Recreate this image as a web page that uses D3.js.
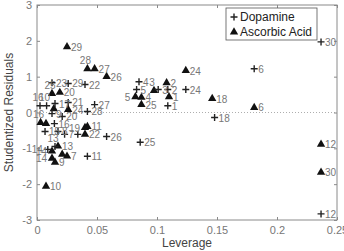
<!DOCTYPE html>
<html>
<head>
<meta charset="utf-8">
<script src="https://cdn.jsdelivr.net/npm/d3@7"></script>
<style>
  body { margin: 0; background: #fff; }
  svg text { font-family: Arial, "Liberation Sans", sans-serif; }
</style>
</head>
<body>
<div id="chart"></div>
<script>
// Dopamine (+): leverage, studentized residual, label
const dopLev = [0.109, 0.109, 0.101, 0.085, 0.083, 0.181, 0.023, 0.0175, 0.0125, 0.008,
                0.042, 0.2367, 0.015, 0.009, 0.0067, 0.0025, 0.015, 0.148, 0.034, 0.021,
                0.026, 0.040, 0.0125, 0.124, 0.086, 0.058, 0.048, 0.042, 0.026, 0.2367, 0.0145];
const dopRes = [0.19, 0.64, 0.64, 0.86, 0.64, 1.22, -0.61, -0.53, -0.03, 0.19,
                -1.22, -2.83, -0.95, -1.03, -0.53, 0.19, 0.25, -0.14, -0.61, -0.11,
                0.28, 0.78, 0.83, 0.64, -0.83, -0.67, 0.22, 0.03, 0.81, 1.97, -0.31];
const dopLab = ["1", "2", "3", "4", "5", "6", "7", "8", "9", "10",
                "11", "12", "13", "14", "15", "16", "17", "18", "19", "20",
                "21", "22", "23", "24", "25", "26", "27", "28", "29", "30", "16"];
const dopPos = ["r", "r", "r", "r", "r", "r", "r", "r", "r", "t",
                "r", "r", "t", "l", "r", "t", "r", "r", "n", "r",
                "r", "r", "r", "r", "r", "r", "r", "r", "r", "r", "r"];

// Ascorbic Acid (triangles)
const ascLev = [0.110, 0.108, 0.0975, 0.087, 0.082, 0.181, 0.025, 0.021, 0.015, 0.0075,
                0.042, 0.2367, 0.0175, 0.0125, 0.0125, 0.003, 0.014, 0.146, 0.040, 0.019,
                0.026, 0.040, 0.0125, 0.124, 0.087, 0.058, 0.048, 0.042, 0.025, 0.2367, 0.0075];
const ascRes = [0.44, 0.83, 0.61, 0.42, 0.44, 0.14, -1.22, -1.17, -1.39, -2.06,
                -0.39, -0.89, -0.94, -1.08, -1.28, -0.28, 0.10, 0.39, -0.42, 0.56,
                0.08, -0.61, 0.53, 1.17, 0.22, 1.0, 1.22, 1.22, 1.83, -1.67, -0.31];
const ascLab = ["1", "2", "3", "4", "5", "6", "7", "8", "9", "10",
                "11", "12", "13", "14", "14", "16", "17", "18", "19", "20",
                "24", "22", "25", "24", "25", "26", "27", "28", "29", "30", "5"];
const ascPos = ["r", "r", "t", "r", "l", "r", "r", "n", "r", "r",
                "r", "r", "r", "l", "l", "t", "n", "r", "l", "r",
                "r", "r", "t", "r", "r", "r", "r", "t", "r", "r", "n"];

const xTicks = [0, 0.05, 0.1, 0.15, 0.2, 0.25];
const yTicks = [-3, -2, -1, 0, 1, 2, 3];

const W = 344, H = 251;
const margin = { top: 5, right: 7, bottom: 31, left: 37 };
const width = W - margin.left - margin.right;
const height = H - margin.top - margin.bottom;

const svg = d3.select("#chart").append("svg")
  .attr("width", W).attr("height", H);
const g = svg.append("g").attr("transform", `translate(${margin.left},${margin.top})`);

const x = d3.scaleLinear().domain([0, 0.25]).range([0, width]);
const y = d3.scaleLinear().domain([-3, 3]).range([height, 0]);

const axisCol = "#8a8a8a";
const fmt = d => d === 0 ? "0" : String(d);

function styleAxis(sel) {
  sel.select(".domain").remove();
  sel.selectAll("line").attr("stroke", axisCol);
  sel.selectAll("text").attr("fill", "#777").attr("font-size", 11);
}

g.append("g").attr("transform", `translate(0,${height})`)
  .call(d3.axisBottom(x).tickValues(xTicks).tickFormat(fmt).tickSizeInner(-3).tickSizeOuter(0).tickPadding(6))
  .call(styleAxis);
g.append("g").call(d3.axisTop(x).tickValues(xTicks).tickFormat("").tickSizeInner(-3).tickSizeOuter(0))
  .call(styleAxis);
g.append("g")
  .call(d3.axisLeft(y).tickValues(yTicks).tickFormat(fmt).tickSizeInner(-3).tickSizeOuter(0).tickPadding(5))
  .call(styleAxis);
g.append("g").attr("transform", `translate(${width},0)`)
  .call(d3.axisRight(y).tickValues(yTicks).tickFormat("").tickSizeInner(-3).tickSizeOuter(0))
  .call(styleAxis);

g.append("rect").attr("width", width).attr("height", height)
  .attr("fill", "none").attr("stroke", axisCol).attr("stroke-width", 1);

// zero reference line
g.append("line")
  .attr("x1", 0).attr("x2", width).attr("y1", y(0)).attr("y2", y(0))
  .attr("stroke", "#999").attr("stroke-width", 0.8).attr("stroke-dasharray", "1,2");

const crossPath = "M-3.5,0H3.5M0,-3.5V3.5";
const triPath = d3.symbol().type(d3.symbolTriangle).size(30)();

function labelAttrs(sel, pos) {
  sel.attr("dx", (d, i) => pos[i] === "l" ? -5 : pos[i] === "t" ? -2 : 4)
    .attr("dy", (d, i) => pos[i] === "t" ? -5 : 4)
    .attr("text-anchor", (d, i) => pos[i] === "l" ? "end" : pos[i] === "t" ? "middle" : "start");
}

const dop = dopLev.map((v, i) => ({ lev: v, res: dopRes[i], lab: dopLab[i] }));
const asc = ascLev.map((v, i) => ({ lev: v, res: ascRes[i], lab: ascLab[i] }));

g.selectAll(".tri").data(asc).enter().append("path")
  .attr("class", "tri")
  .attr("d", triPath)
  .attr("transform", d => `translate(${x(d.lev)},${y(d.res)})`)
  .attr("fill", "#111");

g.selectAll(".cross").data(dop).enter().append("path")
  .attr("class", "cross")
  .attr("d", crossPath)
  .attr("transform", d => `translate(${x(d.lev)},${y(d.res)})`)
  .attr("stroke", "#222").attr("stroke-width", 1.4);

g.selectAll(".alab").data(asc).enter().filter((d, i) => ascPos[i] !== "n").append("text")
  .attr("class", "alab")
  .attr("x", d => x(d.lev)).attr("y", d => y(d.res))
  .call(labelAttrs, ascPos.filter(p => p !== "n"))
  .attr("font-size", 10).attr("fill", "#777")
  .text(d => d.lab);

g.selectAll(".dlab").data(dop).enter().filter((d, i) => dopPos[i] !== "n").append("text")
  .attr("class", "dlab")
  .attr("x", d => x(d.lev)).attr("y", d => y(d.res))
  .call(labelAttrs, dopPos.filter(p => p !== "n"))
  .attr("font-size", 10).attr("fill", "#777")
  .text(d => d.lab);

// legend
const legend = svg.append("g").attr("transform", "translate(226,8)");
legend.append("rect").attr("width", 91).attr("height", 32)
  .attr("fill", "#fff").attr("stroke", "#555").attr("stroke-width", 0.8);
legend.append("path").attr("d", crossPath).attr("transform", "translate(8,9)")
  .attr("stroke", "#222").attr("stroke-width", 1.4);
legend.append("text").attr("x", 14).attr("y", 13).attr("font-size", 12).attr("fill", "#222").text("Dopamine");
legend.append("path").attr("d", triPath).attr("transform", "translate(8,24)").attr("fill", "#111");
legend.append("text").attr("x", 14).attr("y", 28).attr("font-size", 12).attr("fill", "#222").text("Ascorbic Acid");

// axis titles
svg.append("text").attr("x", margin.left + width / 2).attr("y", 247)
  .attr("text-anchor", "middle").attr("font-size", 12).attr("fill", "#444").text("Leverage");
svg.append("text")
  .attr("transform", `translate(13,${margin.top + height / 2}) rotate(-90)`)
  .attr("text-anchor", "middle").attr("font-size", 12).attr("fill", "#444").text("Studentized Residuals");
</script>
</body>
</html>
